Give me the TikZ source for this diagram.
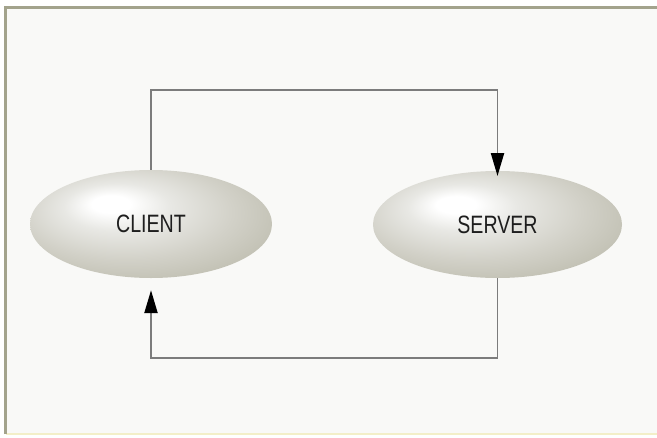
\documentclass[tikz,border=0pt]{standalone}
\usepackage{fontspec}
\usepackage{xcolor}
\usetikzlibrary{shapes,arrows.meta,positioning,calc}
\newfontfamily\eggfont[FakeStretch=0.78]{Liberation Sans}
\definecolor{framegray}{HTML}{A3A38C}
\definecolor{frameyellow}{HTML}{F3EFC8}
\definecolor{paper}{HTML}{F9F9F7}
\definecolor{linegray}{HTML}{7C7C7C}
\definecolor{textgray}{HTML}{1E1E1E}
\definecolor{eggA}{HTML}{E8E8E4}
\definecolor{eggB}{HTML}{D2D1C8}
\definecolor{eggC}{HTML}{BEBDAF}
\definecolor{eggD}{HTML}{A9A797}
\definecolor{eggE}{HTML}{989684}
\pgfdeclareradialshading{egg}{\pgfpoint{-9bp}{10bp}}{%
  color(0bp)=(white); color(4bp)=(white); color(11bp)=(eggA);
  color(22bp)=(eggB); color(33bp)=(eggC); color(43bp)=(eggD);
  color(50bp)=(eggE)}

\begin{document}
\begin{tikzpicture}[
    egg/.style={ellipse, shade, shading=egg, inner sep=0pt,
      font=\eggfont\fontsize{14.3}{16}\selectfont, text=textgray},
    link/.style={draw=linegray, line width=0.85pt,
      -{Triangle[length=13pt,width=7.5pt,fill=black,color=black]}}
  ]
    % \draw[style=help lines,step=0.5cm] (0,0) grid (13.14,8.74);
    \useasboundingbox (0,0) rectangle (13.14,8.74);
    \fill[white] (0,0) rectangle (13.14,8.74);
    \fill[paper] (0.11,0.06) rectangle (13.14,8.59);

    % frame
    \draw[frameyellow, line width=1.2pt] (0.11,0.06) -- (13.14,0.06);
    \draw[framegray, line width=1.2pt] (0.11,0.06) -- (0.11,8.59) -- (13.14,8.59);

    \node[egg, minimum width=4.84cm, minimum height=2.16cm] (client) at (3.02,4.26) {CLIENT};
    \node[egg, minimum width=4.98cm, minimum height=2.14cm] (server) at (9.95,4.25) {SERVER};

    \coordinate (topbend) at (6.5,6.94);
    \coordinate (bottombend) at (6.5,1.58);

    \draw[link, shorten >=-3pt] (client.north) |- (topbend) -| (server.north);
    \draw[link, shorten >=6.8pt] (server.south) |- (bottombend) -| (client.south);
\end{tikzpicture}
\end{document}
